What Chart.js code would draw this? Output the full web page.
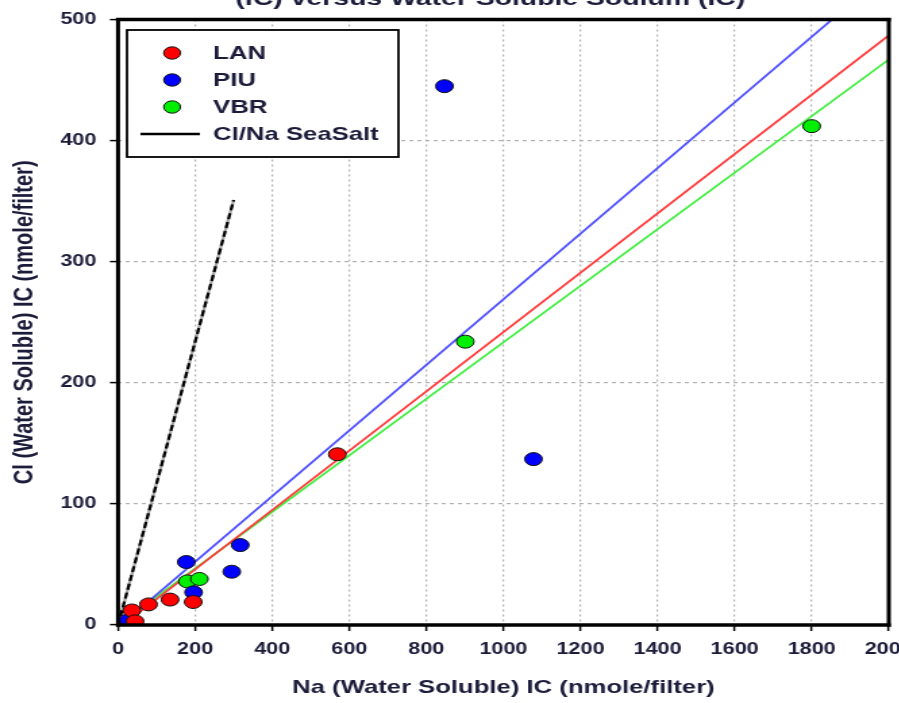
<!DOCTYPE html>
<html><head><meta charset="utf-8">
<script src="https://cdn.jsdelivr.net/npm/chart.js@4.4.0/dist/chart.umd.min.js"></script>
<style>
html,body{margin:0;padding:0;overflow:hidden;background:#fff;width:899px;height:703px}
</style>
</head><body>
<canvas id="c" width="690" height="703" style="display:block;width:931.5px;height:703px"></canvas>
<script>
// ---- data ----
const seriesNames = ['LAN', 'PIU', 'VBR'];
const lanX = [36, 44, 79, 135, 195, 569];
const lanY = [12, 3, 17, 21, 19, 141];
const piuX = [27, 177, 196, 295, 317, 847, 1078];
const piuY = [4, 52, 27, 44, 66, 445, 137];
const vbrX = [180, 211, 901, 1800];
const vbrY = [36, 38, 234, 412];
// fitted lines (slope / intercept per series)
const fitSlopes = [0.245, 0.271, 0.2335];
const fitIntercepts = [-3, -2, 0];
const fitRange = [13, 2000];
// sea-salt reference ratio line
const seaSaltLabel = 'Cl/Na SeaSalt';
const seaSaltX = [0, 300];
const seaSaltRatio = 1.17;
// axis ticks
const xTicks = [0, 200, 400, 600, 800, 1000, 1200, 1400, 1600, 1800, 2000];
const yTicks = [0, 100, 200, 300, 400, 500];
const titleText = '(IC) versus Water Soluble Sodium (IC)';
const xTitle = 'Na (Water Soluble) IC (nmole/filter)';
const yTitle = 'Cl (Water Soluble) IC (nmole/filter)';

const pointColors = ['#ff0000', '#0000ff', '#00ee00'];
const lineColors = ['#ff3a3a', '#5050ff', '#40ee40'];
const textColor = '#1b1b3a';
const FONT = '"Liberation Sans", Arial, sans-serif';

const pts = (xs, ys) => xs.map((x, i) => ({x: x, y: ys[i]}));
const xsAll = [lanX, piuX, vbrX], ysAll = [lanY, piuY, vbrY];

const datasets = [];
seriesNames.forEach((name, i) => {
  datasets.push({
    type: 'scatter', label: name, data: pts(xsAll[i], ysAll[i]),
    backgroundColor: pointColors[i], borderColor: '#111', borderWidth: 1,
    pointRadius: 6.5, pointHoverRadius: 6.5, order: 1, legendMarker: true
  });
});
seriesNames.forEach((name, i) => {
  datasets.push({
    type: 'line', label: name + ' fit',
    data: fitRange.map(x => ({x: x, y: fitSlopes[i] * x + fitIntercepts[i]})),
    borderColor: lineColors[i], borderWidth: 1.8, pointRadius: 0, fill: false, order: 3
  });
});
datasets.push({
  type: 'line', label: seaSaltLabel + ' base',
  data: seaSaltX.map(x => ({x: x, y: x * seaSaltRatio})),
  borderColor: '#a0a0a0', borderWidth: 2.2, pointRadius: 0, fill: false, order: 5
});
datasets.push({
  type: 'line', label: seaSaltLabel,
  data: seaSaltX.map(x => ({x: x, y: x * seaSaltRatio})),
  borderColor: '#000', borderWidth: 2.2, borderDash: [6, 3], pointRadius: 0, fill: false, order: 4
});

const decor = {
  id: 'decor',
  afterDraw(chart) {
    const ctx = chart.ctx, a = chart.chartArea;
    ctx.save();
    // frame
    ctx.strokeStyle = '#000';
    ctx.lineWidth = 3.5;
    ctx.beginPath();
    ctx.moveTo(a.left - 1.5, a.top); ctx.lineTo(a.right + 1.5, a.top);
    ctx.moveTo(a.left - 1.5, a.bottom); ctx.lineTo(a.right + 1.5, a.bottom);
    ctx.stroke();
    ctx.lineWidth = 3;
    ctx.beginPath();
    ctx.moveTo(a.left, a.top - 1.7); ctx.lineTo(a.left, a.bottom + 1.7);
    ctx.moveTo(a.right, a.top - 1.7); ctx.lineTo(a.right, a.bottom + 1.7);
    ctx.stroke();
    // title (cut at the top edge)
    ctx.fillStyle = textColor;
    ctx.font = 'bold 21px ' + FONT;
    ctx.textAlign = 'center';
    ctx.textBaseline = 'alphabetic';
    ctx.fillText(titleText, 363, 5);
    // legend
    const bx = 94, by = 30, bw = 201, bh = 127;
    ctx.fillStyle = '#fff';
    ctx.fillRect(bx, by, bw, bh);
    ctx.strokeStyle = '#000';
    ctx.lineWidth = 1.8;
    ctx.strokeRect(bx, by, bw, bh);
    const rows = [53, 80, 107, 134];
    const entries = chart.data.datasets.filter(d => d.legendMarker);
    ctx.font = 'bold 19px ' + FONT;
    ctx.textAlign = 'left';
    ctx.textBaseline = 'middle';
    entries.forEach((d, i) => {
      ctx.beginPath();
      ctx.arc(127.4, rows[i], 6.2, 0, Math.PI * 2);
      ctx.fillStyle = d.backgroundColor; ctx.fill();
      ctx.lineWidth = 1; ctx.strokeStyle = '#111'; ctx.stroke();
      ctx.fillStyle = textColor;
      ctx.fillText(d.label, 157.8, rows[i] + 1);
    });
    ctx.beginPath();
    ctx.moveTo(104, rows[3]); ctx.lineTo(148, rows[3]);
    ctx.lineWidth = 2.5; ctx.strokeStyle = '#000'; ctx.stroke();
    ctx.fillStyle = textColor;
    ctx.fillText(seaSaltLabel, 157.8, rows[3] + 1);
    ctx.restore();
  }
};

new Chart(document.getElementById('c'), {
  type: 'scatter',
  data: {datasets: datasets},
  options: {
    responsive: false, animation: false, devicePixelRatio: 1,
    layout: {padding: {left: 0, right: 32, top: 17, bottom: 0}},
    plugins: {legend: {display: false}, tooltip: {enabled: false}, title: {display: false}},
    scales: {
      x: {
        type: 'linear', position: 'bottom', min: 0, max: 2000,
        afterBuildTicks: s => { s.ticks = xTicks.map(v => ({value: v})); },
        afterFit: s => { s.height = 78; },
        ticks: {color: textColor, font: {family: FONT, size: 16, weight: 'bold'}, padding: 9, maxRotation: 0, autoSkip: false,
                callback: v => String(v)},
        grid: {color: '#b0b0b0', lineWidth: 1.2, tickColor: '#000', tickWidth: 1.5, tickLength: 6, tickBorderDash: []},
        border: {display: false, dash: [2, 3]},
        title: {display: true, text: xTitle, color: textColor, font: {family: FONT, size: 19, weight: 'bold'}, padding: {top: 0, bottom: 3.6}}
      },
      y: {
        type: 'linear', position: 'left', min: 0, max: 500,
        afterBuildTicks: s => { s.ticks = yTicks.map(v => ({value: v})); },
        afterFit: s => { s.width = 87.4; },
        ticks: {color: textColor, font: {family: FONT, size: 16, weight: 'bold'}, padding: 10, autoSkip: false,
                callback: v => String(v)},
        grid: {color: '#b0b0b0', lineWidth: 1.2, tickColor: '#000', tickWidth: 1.5, tickLength: 6, tickBorderDash: []},
        border: {display: false, dash: [3, 3]},
        title: {display: true, text: yTitle, color: textColor, font: {family: FONT, size: 20, weight: 'bold'}, padding: {top: 6.5, bottom: 0}}
      }
    }
  },
  plugins: [decor]
});
</script>
</body></html>
